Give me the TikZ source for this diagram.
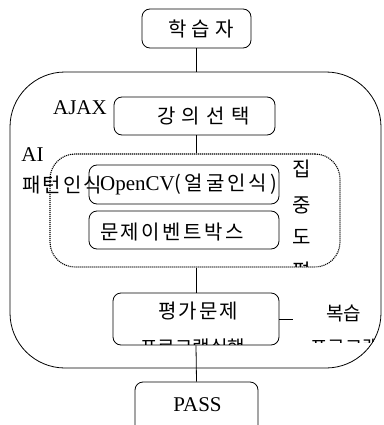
\documentclass[tikz,border=0pt]{standalone}
\usepackage{fontspec}
\setmainfont{Liberation Serif}
\newfontfamily\kr{Noto Sans CJK KR}
\newcommand\kls[1]{\addfontfeature{LetterSpace=#1}}
\begin{document}
\begin{tikzpicture}[x=1pt,y=-1pt,
  box/.style={draw, rounded corners=8pt, line width=0.8pt, inner sep=0pt},
  kt/.style={font=\kr\fontsize{20}{22}\selectfont\kls{10}, inner sep=0pt},
  lt/.style={font=\fontsize{21}{24}\selectfont, inner sep=0pt},
  conn/.style={line width=0.8pt}]
\useasboundingbox (0,0) rectangle (383,425);
% boxes
\node[box, minimum width=109, minimum height=39] (learner) at (196.5,28.5) {};
\node[draw, line width=0.8pt, rounded corners=55pt, minimum width=371, minimum height=296] (outer) at (195.5,220) {};
\node[box, minimum width=161, minimum height=38] (sel) at (194.5,116) {};
\node[draw, line width=1.1pt, dash pattern=on 1.1pt off 0.9pt, rounded corners=25pt, minimum width=290, minimum height=113] (focus) at (195,210.5) {};
\node[box, minimum width=190, minimum height=39] (cv) at (184,184.5) {};
\node[box, minimum width=190, minimum height=38] (evt) at (184,230) {};
\node[box, minimum width=166, minimum height=52] (eval) at (196,319) {};
\node[box, minimum width=123, minimum height=60] (pass) at (196.5,412) {};
\coordinate (rev) at (293,319);
% texts
\node[kt, anchor=west, font=\kr\fontsize{20}{22}\selectfont\kls{25}] (tlearner) at (168,28.5) {학습자};
\node[kt, anchor=west, font=\kr\fontsize{20}{22}\selectfont\kls{32}] (tsel) at (157,116) {강의선택};
\node[lt] (tajax) at (80,108) {AJAX};
\node[lt] (tai) at (32.5,154.5) {AI};
\node[kt, anchor=west] (tpat) at (22,185) {패턴인식};
\node[anchor=west, inner sep=0pt] (tcv) at (100,184) {\fontsize{21}{24}\selectfont OpenCV{\kr\fontsize{20}{22}\selectfont\kls{15}(얼굴인식)}};
\node[kt, anchor=west, font=\kr\fontsize{20}{22}\selectfont\kls{12}] (tevt) at (100,232) {문제이벤트박스};
\node[kt] (f1) at (302,169) {집};
\node[kt] (f2) at (302,205.5) {중};
\node[kt] (f3) at (302,236.5) {도};
\begin{scope}
\clip (280,150) rectangle (330,266.5);
\node[kt] (f4) at (302,271) {평};
\end{scope}
\node[kt, anchor=west] (teval) at (158,311.5) {평가문제};
\begin{scope}
\clip (113,293) rectangle (279,344.5);
\node[kt, anchor=west, font=\kr\fontsize{19}{22}\selectfont] (trun) at (140,347) {프로그램실행};
\end{scope}
\node[kt, anchor=west, font=\kr\fontsize{19}{22}\selectfont] (trev1) at (326,313.5) {복습};
\begin{scope}
\clip (300,300) rectangle (383,342.5);
\clip[rounded corners=55pt] (10,72) rectangle (381,368);
\node[kt, anchor=west, font=\kr\fontsize{19}{22}\selectfont] (trev2) at (310,347) {프로그램};
\end{scope}
\node[lt] (tpass) at (197.5,404.7) {PASS};
% connectors
\draw[conn] (learner.south) -- (learner.south |- outer.north);
\draw[conn] (sel.south -| 196,0) -- (focus.north -| 196,0);
\draw[conn] (focus.south -| eval.north) -- (eval.north);
\draw[conn] (eval.south) -- (pass.north);
\draw[conn] (eval.east) -- (rev);
\end{tikzpicture}
\end{document}
